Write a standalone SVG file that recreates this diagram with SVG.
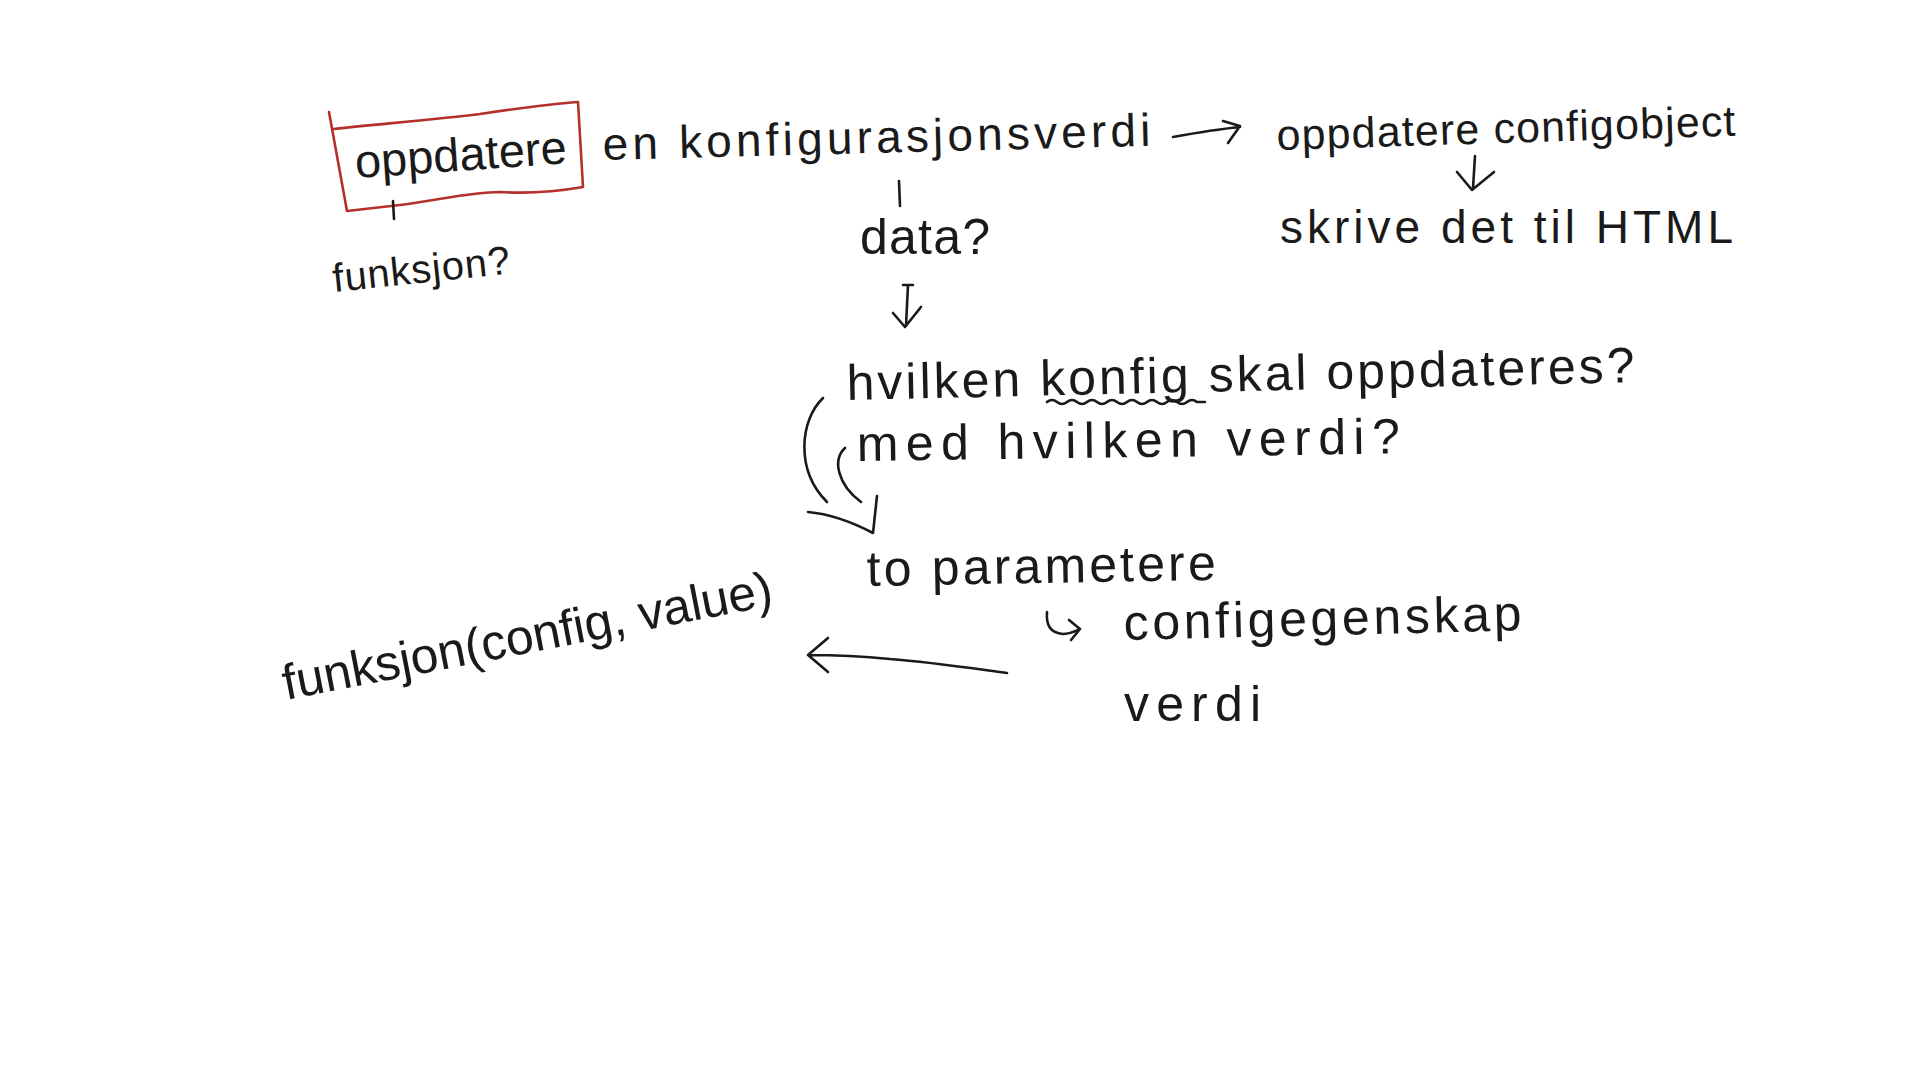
<svg xmlns="http://www.w3.org/2000/svg" width="1920" height="1080" viewBox="0 0 1920 1080">
<style>
.t{font-family:"Liberation Sans","DejaVu Sans",sans-serif;fill:#1a1a1a;}
.ln{fill:none;stroke:#1a1a1a;stroke-width:2.6;stroke-linecap:round;stroke-linejoin:round;}
.red{fill:none;stroke:#b5302b;stroke-width:2.6;stroke-linecap:round;stroke-linejoin:round;}
</style>
<rect width="1920" height="1080" fill="#ffffff"/>
<g id="node-oppdatere">
<path class="red" d="M329,112 L347,211 M334,129 C380,124 430,120 480,114 C520,108 550,104 578,102 L583,187 C560,191 530,194 500,192 C470,192 440,200 400,205 L347,211"/>
<text class="t" x="356" y="178" font-size="47" textLength="212" lengthAdjust="spacing" transform="rotate(-4 356 178)">oppdatere</text>
</g>
<g id="node-konfigurasjonsverdi">
<text class="t" x="603" y="160" font-size="46" textLength="548" lengthAdjust="spacing" transform="rotate(-1.5 603 160)">en konfigurasjonsverdi</text>
</g>
<g id="node-configobject">
<text class="t" x="1277" y="150" font-size="43" textLength="459" lengthAdjust="spacing" transform="rotate(-1.8 1277 150)">oppdatere configobject</text>
</g>
<g id="node-html">
<text class="t" x="1280" y="243" font-size="46" textLength="453" lengthAdjust="spacing">skrive det til HTML</text>
</g>
<g id="node-funksjon-q">
<text class="t" x="334" y="292" font-size="40" textLength="178" lengthAdjust="spacing" transform="rotate(-6 334 292)">funksjon?</text>
</g>
<g id="node-data">
<text class="t" x="860" y="254" font-size="50" textLength="130" lengthAdjust="spacing">data?</text>
</g>
<g id="node-questions">
<text class="t" x="847" y="400" font-size="50" textLength="788" lengthAdjust="spacing" transform="rotate(-1.3 847 400)">hvilken konfig skal oppdateres?</text>
<path class="ln" d="M1047,402 q5,-4 10,0 t10,0 t10,0 t10,0 t10,0 t10,0 t10,0 t10,0 t10,0 t10,0 t10,0 t10,0 t10,0 t10,0 t10,0 l8,0"/>
<text class="t" x="857" y="461" font-size="50" textLength="543" lengthAdjust="spacing" transform="rotate(-0.8 857 461)">med hvilken verdi?</text>
<path class="ln" d="M823,398 C800,420 795,470 827,502"/>
<path class="ln" d="M845,448 C832,460 838,485 861,502"/>
</g>
<g id="node-parametere">
<text class="t" x="867" y="586" font-size="50" textLength="349" lengthAdjust="spacing" transform="rotate(-1 867 586)">to parametere</text>
</g>
<g id="node-configegenskap">
<text class="t" x="1124" y="640" font-size="50" textLength="398" lengthAdjust="spacing" transform="rotate(-1.4 1124 640)">configegenskap</text>
</g>
<g id="node-verdi">
<text class="t" x="1124" y="721" font-size="50" textLength="137" lengthAdjust="spacing">verdi</text>
</g>
<g id="node-funksjon-call">
<text class="t" x="286" y="700" font-size="50" textLength="498" lengthAdjust="spacing" transform="rotate(-11 286 700)">funksjon(config, value)</text>
</g>
<g id="connectors">
<path class="ln" d="M393,201 L394,219"/>
<path class="ln" d="M899,181 L900,206"/>
<path class="ln" d="M1173,137 C1195,133 1220,129 1240,127 M1223,121 L1240,126 L1228,143"/>
<path class="ln" d="M1475,156 L1473,188 M1457,172 L1472,190 L1494,172"/>
<path class="ln" d="M903,285 L913,285 M908,285 L906,326 M893,313 L905,327 L921,307"/>
<path class="ln" d="M808,512 C830,514 852,522 873,533 L877,496"/>
<path class="ln" d="M1047,612 C1046,625 1050,633 1063,634 C1070,634 1075,631 1080,629 M1069,620 L1080,629 L1071,640"/>
<path class="ln" d="M1007,673 C970,668 930,662 890,659 C860,656 830,655 808,655 M828,638 L808,655 L828,672"/>
</g>
</svg>
